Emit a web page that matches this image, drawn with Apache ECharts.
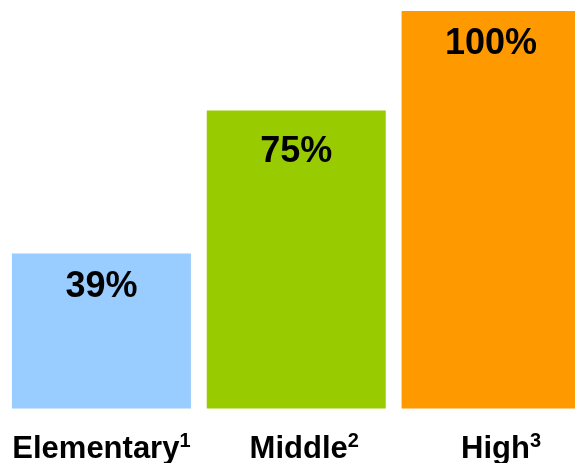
<!DOCTYPE html>
<html><head><meta charset="utf-8">
<script src="https://cdn.jsdelivr.net/npm/echarts@6/dist/echarts.min.js"></script>
<style>html,body{margin:0;padding:0;background:#fff}#c{width:575px;height:463px}</style>
</head><body><div id="c"></div>
<script>
const categories = ['Elementary', 'Middle', 'High'];
const footnotes = ['1', '2', '3'];
const values = [39, 75, 100];
const colors = ['#99ccff', '#99cc00', '#ff9900'];
const labelShift = [0, 16, 20];
const valueLabelGap = [16, 24, 15];

const chart = echarts.init(document.getElementById('c'), null, {renderer: 'canvas'});
const FONT = 'Arial, "Liberation Sans", sans-serif';
chart.setOption({
  animation: false,
  backgroundColor: '#ffffff',
  grid: {left: 4, top: 11, right: -13.5, bottom: 54.5, containLabel: false, outerBoundsMode: 'none'},
  xAxis: {
    type: 'category',
    data: categories.map((c, i) => ({value: c, textStyle: {padding: [0, 0, 0, labelShift[i]]}})),
    axisLine: {show: false}, axisTick: {show: false},
    axisLabel: {
      margin: 23,
      formatter: function (v, i) { return '{a|' + v + '}{s|' + footnotes[i] + '}'; },
      rich: {
        a: {fontFamily: FONT, fontWeight: 'bold', fontSize: 31, color: '#000', lineHeight: 35},
        s: {fontFamily: FONT, fontWeight: 'bold', fontSize: 20, color: '#000', verticalAlign: 'top', lineHeight: 35, padding: [0,0,9,0]}
      }
    }
  },
  yAxis: {type: 'value', min: 0, max: 100, show: false, splitLine: {show: false}},
  series: [{
    type: 'bar',
    data: values.map((v, i) => ({value: v, itemStyle: {color: colors[i]}, label: {distance: valueLabelGap[i]}})),
    barWidth: 179,
    label: {
      show: true, position: 'insideTop',
      formatter: '{c}%',
      fontFamily: FONT, fontWeight: 'bold', fontSize: 36, color: '#000'
    }
  }]
});
</script></body></html>
